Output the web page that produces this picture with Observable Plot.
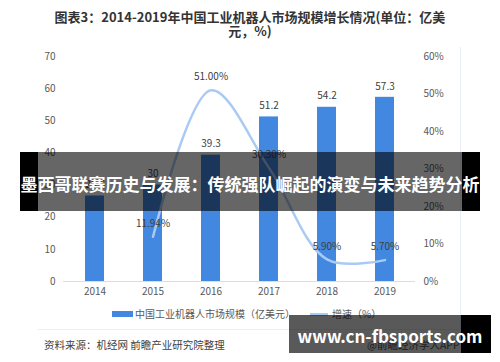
<!DOCTYPE html>
<html>
<head>
<meta charset="utf-8">
<script src="https://cdn.jsdelivr.net/npm/d3@7"></script>
<script src="https://cdn.jsdelivr.net/npm/@observablehq/plot@0.6"></script>
<style>
  body { margin: 0; background: #fff; }
  #wrap { position: relative; width: 500px; height: 362px; overflow: hidden; background: #fff;
          font-family: "Noto Sans CJK SC", "Noto Sans", sans-serif; }
  .abs { position: absolute; }
  #title { left: 0; top: 10px; width: 500px; text-align: center; font-size: 13px; font-weight: bold;
           line-height: 13.5px; color: #333; }
  #chart { left: 0; top: 40px; }
  .legtext { font-size: 10px; color: #595959; line-height: 12px; top: 308px; white-space: nowrap; }
  .src { font-size: 10.5px; line-height: 12px; top: 339px; white-space: nowrap; }
  #banner { left: 20px; top: 152px; width: 460px; height: 59px;
            background: linear-gradient(to right, #000 0 18px, rgba(0,0,0,0.6) 18px 442px, #000 442px 460px);
            color: #fff; font-weight: bold; font-size: 17px; text-align: center; line-height: 59px; white-space: nowrap; }
  #banner span { position: relative; top: 2px; }
  #wm { left: 289px; top: 315px; width: 202px; height: 38px;
        background: linear-gradient(to right, rgba(0,0,0,0.65) 0 172px, #000 172px 202px);
        color: #fff; font-weight: bold; font-size: 17px; text-align: center; line-height: 38px; white-space: nowrap; }
  #wm span { position: relative; top: 2px; }
</style>
</head>
<body>
<div id="wrap">
  <div class="abs" style="left:460px;top:47px;width:1px;height:282px;background:#e9eef5"></div>
  <div class="abs" style="left:38px;top:329px;width:422px;height:1px;background:#e9eef5"></div>
  <div id="title" class="abs"></div>
  <div id="chart" class="abs"></div>
  <div class="abs" style="left:112px;top:311px;width:21px;height:6px;background:#4287e0"></div>
  <div id="leg1" class="abs legtext" style="left:135px"></div>
  <div class="abs" style="left:310px;top:313px;width:18px;height:2.5px;background:#a9cbf3"></div>
  <div id="leg2" class="abs legtext" style="left:332px"></div>
  <div id="src" class="abs src" style="left:44px;color:#404040"></div>
  <div id="app" class="abs src" style="left:367px;color:#595959"></div>
  <div id="banner" class="abs"><span></span></div>
  <div id="wm" class="abs"><span></span></div>
</div>
<script>
// ---- data ----
const years = ["2014", "2015", "2016", "2017", "2018", "2019"];
const marketSize = [26.6, 30, 39.3, 51.2, 54.2, 57.3];
const sizeLabels = ["26.6", "30", "39.3", "51.2", "54.2", "57.3"];
const growthYears = ["2015", "2016", "2017", "2018", "2019"];
const growth = [11.94, 51.0, 30.3, 5.9, 5.7];
const growthLabels = ["11.94%", "51.00%", "30.30%", "5.90%", "5.70%"];
const leftTicks = [0, 10, 20, 30, 40, 50, 60, 70];
const rightTicks = [0, 10, 20, 30, 40, 50, 60];

const titleLines = ["图表3：2014-2019年中国工业机器人市场规模增长情况(单位：亿美", "元，%)"];
const legendSize = "中国工业机器人市场规模（亿美元）";
const legendGrowth = "增速（%）";
const sourceText = "资料来源：机经网 前瞻产业研究院整理";
const appText = "@前瞻经济学人APP";
const bannerText = "墨西哥联赛历史与发展：传统强队崛起的演变与未来趋势分析";
const watermarkText = "www.cn-fbsports.com";

// ---- text ----
document.getElementById("title").innerHTML = titleLines.join("<br>");
document.getElementById("leg1").textContent = legendSize;
document.getElementById("leg2").textContent = legendGrowth;
document.getElementById("src").textContent = sourceText;
document.getElementById("app").textContent = appText;
document.querySelector("#banner span").textContent = bannerText;
document.querySelector("#wm span").textContent = watermarkText;

// ---- chart ----
const leftMax = 70, rightMax = 60;
const toLeft = v => v * leftMax / rightMax;
const sizeData = years.map((y, i) => ({year: y, value: marketSize[i], label: sizeLabels[i]}));
const growthData = growthYears.map((y, i) => ({year: y, value: toLeft(growth[i]), label: growthLabels[i]}));

const chart = Plot.plot({
  width: 500,
  height: 270,
  marginTop: 16,
  marginBottom: 29,
  marginLeft: 63,
  marginRight: 85,
  style: {fontFamily: '"Noto Sans CJK SC", "Noto Sans", sans-serif', fontSize: "10px", color: "#595959", background: "transparent"},
  x: {type: "band", domain: years, paddingInner: 0.676, paddingOuter: 0.338, label: null},
  y: {domain: [0, leftMax], label: null},
  marks: [
    Plot.ruleY([0], {stroke: "#d9dee6"}),
    Plot.barY(sizeData, {x: "year", y: "value", fill: "#4287e0"}),
    Plot.text(sizeData, {x: "year", y: "value", text: "label", dy: -11, fill: "#404040"}),
    Plot.line(growthData, {x: "year", y: "value", curve: "catmull-rom", stroke: "#a9cbf3", strokeWidth: 2.5}),
    Plot.text(growthData, {x: "year", y: "value", text: "label", dy: -13, fill: "#404040"}),
    Plot.axisX({tickSize: 0, tickPadding: 6, label: null}),
    Plot.axisY(leftTicks, {anchor: "left", tickSize: 0, tickPadding: 8, label: null}),
    Plot.axisY(rightTicks.map(toLeft), {anchor: "right", tickSize: 0, tickPadding: 8, label: null,
      tickFormat: d => Math.round(d * rightMax / leftMax) + "%"})
  ]
});
document.getElementById("chart").appendChild(chart);
</script>
</body>
</html>
